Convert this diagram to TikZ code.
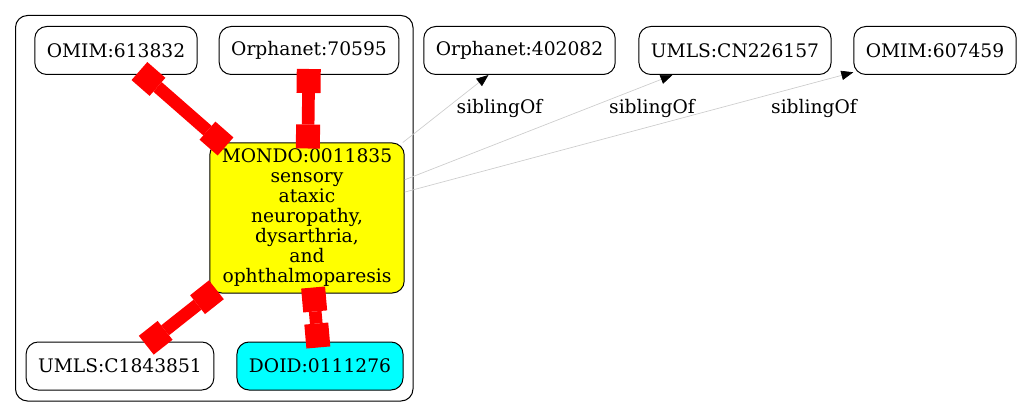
\documentclass[tikz,border=0pt]{standalone}
\usepackage{fontspec}
\setmainfont{DejaVu Serif}
\usepackage{xcolor}
\definecolor{mondoyellow}{HTML}{FFFF00}
\definecolor{doidcyan}{HTML}{00FFFF}
\definecolor{xrefred}{HTML}{FF0000}
\usepackage{tikz}
\usetikzlibrary{arrows.meta}

\begin{document}
\begin{tikzpicture}[x=0.75pt, y=-0.75pt,
  term/.style={draw, line width=0.75pt, rounded corners=9pt, fill=white,
    minimum height=36pt, inner xsep=9pt, font=\fontsize{14}{15}\selectfont},
  xref/.style={draw=xrefred, line width=9.5pt, shorten <=-4.5pt, shorten >=-4.5pt,
    {Square[length=18pt,width=18pt,line width=0pt]}-{Square[length=18pt,width=18pt,line width=0pt]}},
  sibling/.style={draw=black!20, line width=0.5pt,
    -{Triangle[length=9pt,width=7pt,color=black]}},
  siblabel/.style={font=\fontsize{14}{15}\selectfont}]
  \useasboundingbox (0,0) rectangle (1020,417);

  % Cluster frame
  \draw[line width=0.75pt, rounded corners=9pt] (15.5,15.5) rectangle (413,401);

  % Terms in the cluster
  \node[term] (omimA) at (116,50.5) {OMIM:613832};
  \node[term] (orphA) at (309,50.5) {Orphanet:70595};
  \node[term, fill=mondoyellow, align=center, minimum height=112.5pt] (mondo) at (307,218)
    {MONDO:0011835\\sensory\\ataxic\\neuropathy,\\dysarthria,\\and\\ophthalmoparesis};
  \node[term] (umlsA) at (120,366) {UMLS:C1843851};
  \node[term, fill=doidcyan] (doid) at (320,366) {DOID:0111276};

  % Siblings
  \node[term] (orphB) at (519.5,50.5) {Orphanet:402082};
  \node[term] (umlsB) at (735,50.5) {UMLS:CN226157};
  \node[term] (omimB) at (935,50.5) {OMIM:607459};

  % Cross references
  \draw[xref] (omimA) -- (mondo);
  \draw[xref] (orphA) -- (mondo);
  \draw[xref] (umlsA) -- (mondo);
  \draw[xref] (doid) -- (mondo);

  % siblingOf edges
  \draw[sibling] (mondo) -- (orphB);
  \draw[sibling] (mondo) -- (umlsB);
  \draw[sibling] (mondo) -- (omimB);
  \node[siblabel] (labB) at (499.5,108) {siblingOf};
  \node[siblabel] (labC) at (652,108) {siblingOf};
  \node[siblabel] (labD) at (814,108) {siblingOf};
\end{tikzpicture}
\end{document}
